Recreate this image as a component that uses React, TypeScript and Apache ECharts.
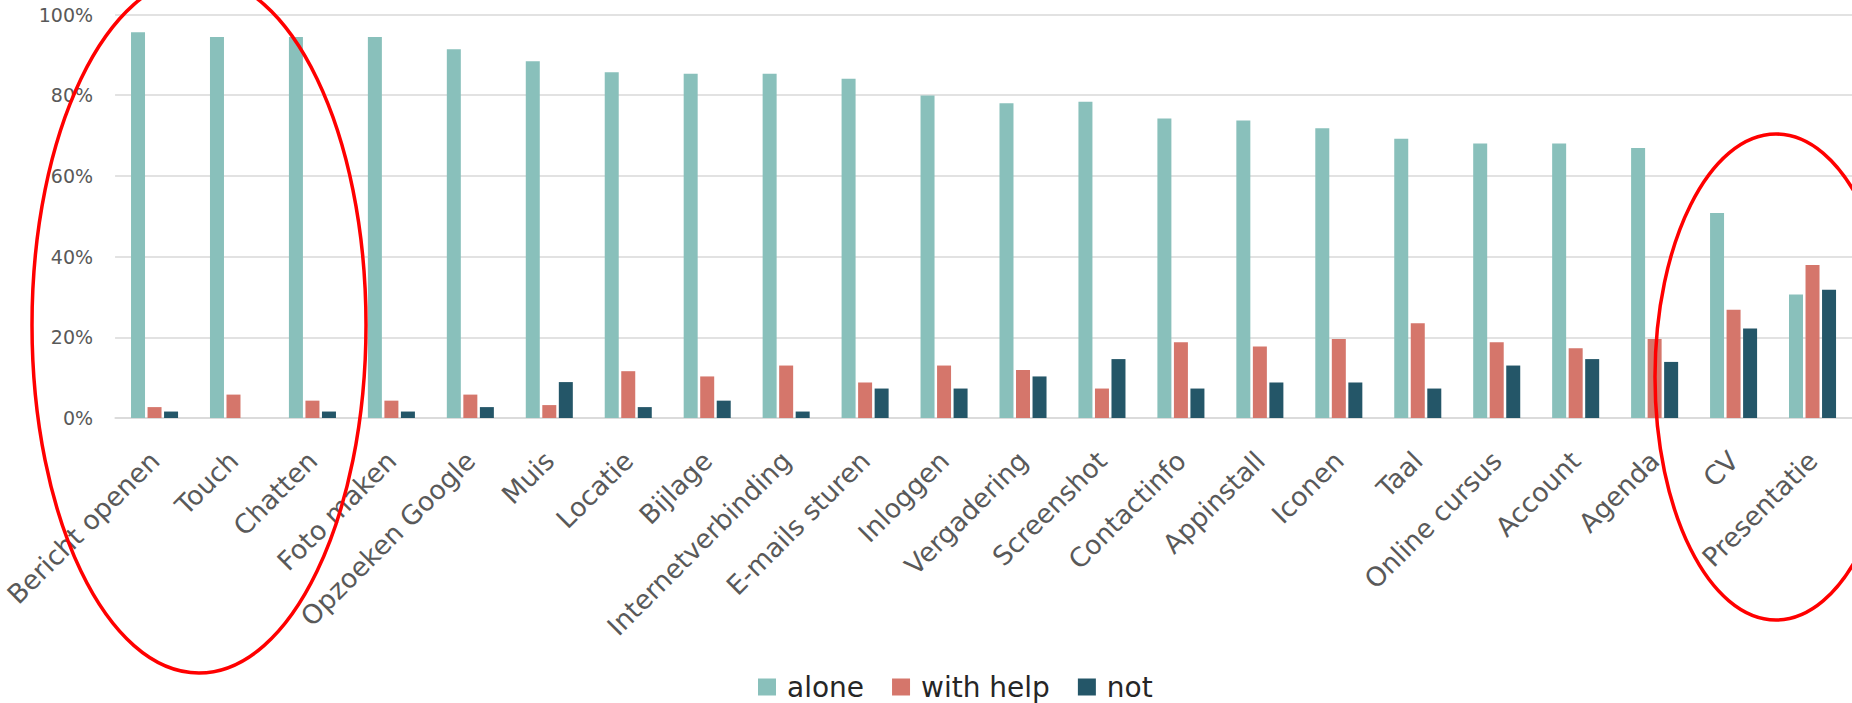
import React, { useEffect, useRef } from "react";
import * as echarts from "echarts";

const categories = [
  "Bericht openen", "Touch", "Chatten", "Foto maken", "Opzoeken Google", "Muis",
  "Locatie", "Bijlage", "Internetverbinding", "E-mails sturen", "Inloggen",
  "Vergadering", "Screenshot", "Contactinfo", "Appinstall", "Iconen", "Taal",
  "Online cursus", "Account", "Agenda", "CV", "Presentatie",
];
const alone = [95.6, 94.4, 94.4, 94.4, 91.4, 88.4, 85.7, 85.3, 85.3, 84.1, 79.9, 78.0, 78.4, 74.2, 73.7, 71.8, 69.2, 68.0, 68.0, 66.9, 50.8, 30.6];
const withHelp = [2.7, 5.8, 4.3, 4.3, 5.8, 3.2, 11.6, 10.3, 13.0, 8.8, 13.0, 11.9, 7.3, 18.8, 17.7, 19.6, 23.5, 18.8, 17.3, 19.6, 26.8, 37.9];
const notAble = [1.6, 0, 1.6, 1.6, 2.7, 8.9, 2.7, 4.3, 1.6, 7.3, 7.3, 10.3, 14.6, 7.3, 8.8, 8.8, 7.3, 13.0, 14.6, 13.9, 22.2, 31.8];
const seriesNames = ["alone", "with help", "not"];
const colors = ["#89C0BB", "#D5766B", "#245668"];

export default function App() {
  const ref = useRef<HTMLDivElement>(null);
  useEffect(() => {
    document.body.style.margin = "0";
    const chart = echarts.init(ref.current!, null, { renderer: "svg" });
    const font = "DejaVu Sans";
    chart.setOption({
      animation: false,
      backgroundColor: "#ffffff",
      color: colors,
      grid: { left: 112, right: 0, top: 14.5, bottom: 285, containLabel: false },
      legend: {
        data: seriesNames,
        left: 753,
        top: 668,
        itemWidth: 18,
        itemHeight: 17,
        itemGap: 28,
        icon: "rect",
        textStyle: { fontFamily: font, fontSize: 28, lineHeight: 28, color: "#262626", padding: [0, 0, 0, 6] },
      },
      xAxis: {
        type: "category",
        data: categories,
        axisLine: { show: true, lineStyle: { color: "#D9D9D9", width: 1.5 } },
        axisTick: { show: false },
        axisLabel: {
          interval: 0,
          rotate: 45,
          margin: 38,
          fontFamily: font,
          fontSize: 26.5,
          color: "#595959",
        },
      },
      yAxis: {
        type: "value",
        min: 0,
        max: 100,
        interval: 20,
        axisLine: { show: false },
        axisTick: { show: false },
        splitLine: { lineStyle: { color: "#D9D9D9", width: 1.5 } },
        axisLabel: {
          formatter: "{value}%",
          margin: 22,
          fontFamily: font,
          fontSize: 19,
          color: "#595959",
        },
      },
      series: [
        { name: seriesNames[0], type: "bar", data: alone, barWidth: 14, barGap: "18%" },
        { name: seriesNames[1], type: "bar", data: withHelp, barWidth: 14, barGap: "18%" },
        { name: seriesNames[2], type: "bar", data: notAble, barWidth: 14, barGap: "18%" },
      ],
      graphic: [
        {
          type: "ellipse",
          shape: { cx: 199, cy: 325, rx: 167, ry: 348 },
          style: { fill: "none", stroke: "#FF0000", lineWidth: 3.5 },
          z: 100,
        },
        {
          type: "ellipse",
          shape: { cx: 1776, cy: 377, rx: 121, ry: 243 },
          style: { fill: "none", stroke: "#FF0000", lineWidth: 3.5 },
          z: 100,
        },
      ],
    });
    return () => chart.dispose();
  }, []);
  return <div ref={ref} style={{ width: 1852, height: 703 }} />;
}
